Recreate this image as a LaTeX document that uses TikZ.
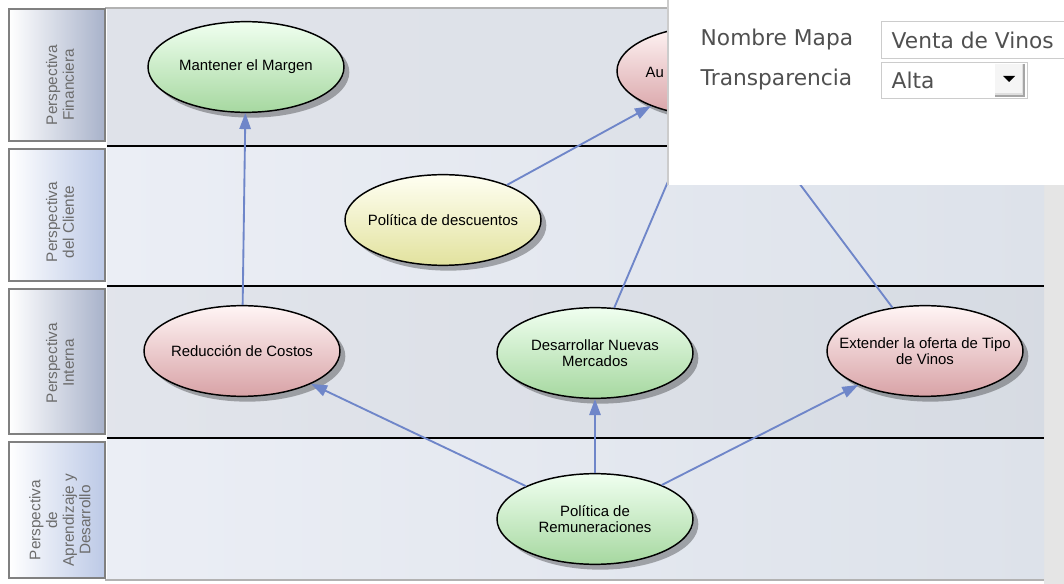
\documentclass[tikz,border=0pt]{standalone}
\usepackage{fontspec}
\setmainfont{Liberation Sans}
\newfontfamily\panelfont{DejaVu Sans}
\usepackage{tikz}
\usetikzlibrary{arrows.meta,shapes.geometric,shadows}

\definecolor{linkblue}{HTML}{6F86C9}
\definecolor{laneleft}{HTML}{EBEEF5}
\definecolor{laneright}{HTML}{DDE2EA}
\definecolor{headgrey}{HTML}{A8B2CA}
\definecolor{headblue}{HTML}{BCC9E6}
\definecolor{paneltext}{HTML}{505050}
\definecolor{greenlow}{HTML}{A6D8A0}
\definecolor{pinklow}{HTML}{D8A2A6}
\definecolor{yellowlow}{HTML}{E2E29E}

\tikzset{
  goal/.style={ellipse,draw=black,line width=1.1pt,minimum width=147pt,minimum height=68pt,
    inner xsep=-16pt,inner ysep=0pt,align=center,font=\fontsize{11.2}{12.5}\selectfont,
    drop shadow={shadow xshift=4pt,shadow yshift=-4pt,fill=black,opacity=0.3}},
  greengoal/.style={goal,top color=green!6,bottom color=greenlow},
  pinkgoal/.style={goal,top color=red!4,bottom color=pinklow},
  yellowgoal/.style={goal,top color=yellow!5,bottom color=yellowlow},
  link/.style={draw=linkblue,line width=1.4pt,-{Triangle[length=12pt,width=8.5pt]}},
  headbox/.style={draw=gray,line width=0.8pt},
  headtext/.style={rotate=90,align=center,text=gray!85!black,font=\fontsize{11.5}{12.5}\selectfont}
}

\begin{document}
\begin{tikzpicture}[x=0.75pt,y=-0.75pt]
\useasboundingbox (0,0) rectangle (1064,584);
\fill[white] (0,0) rectangle (1064,584);
\fill[gray!20] (1044,8) rectangle (1064,584);

% Lanes
\shade[left color=laneleft!95!black,right color=laneright] (107,9) rectangle (1044,146);
\shade[left color=laneleft,right color=laneright] (107,146) rectangle (1044,286);
\shade[left color=laneleft!96!black,right color=laneright!97!black] (107,286) rectangle (1044,438);
\shade[left color=laneleft,right color=laneright] (107,438) rectangle (1044,580);
\draw[gray!60,line width=1.5pt] (105,8.5) -- (1044,8.5);
\draw[gray!60,line width=1pt] (105,580) -- (1044,580);
\foreach \y in {146,286,438}
  \draw[black,line width=1.5pt] (107,\y) -- (1044,\y);

% Lane headers
\shade[headbox,left color=white,right color=headgrey] (9,9) rectangle (105,141);
\shade[headbox,left color=white,right color=headblue] (9,149) rectangle (105,281);
\shade[headbox,left color=white,right color=headgrey] (9,289) rectangle (105,434);
\shade[headbox,left color=white,right color=headblue] (9,442) rectangle (105,578);
\node[headtext] (hfin) at (60,85) {Perspectiva\\Financiera};
\node[headtext] (hcli) at (60,222) {Perspectiva\\del Cliente};
\node[headtext] (hint) at (60,363) {Perspectiva\\Interna};
\node[headtext] (hapr) at (60,520) {Perspectiva\\de\\Aprendizaje y\\Desarrollo};

% Objectives
\node[greengoal] (mant) at (246,67) {Mantener el Margen};
\node[pinkgoal] (aum) at (715,71) {};
\node[anchor=west,font=\fontsize{11.2}{12.5}\selectfont] (aumtxt) at (641,72) {Au};
\node[yellowgoal] (desc) at (443,220) {Política de descuentos};
\node[pinkgoal] (reduc) at (242,351) {Reducción de Costos};
\node[greengoal] (merc) at (595,353) {Desarrollar Nuevas\\Mercados};
\node[pinkgoal] (ext) at (925,351) {Extender la oferta de Tipo\\de Vinos};
\node[greengoal] (remu) at (595,519) {Política de\\Remuneraciones};

% Links
\draw[link] (reduc) -- (mant);
\draw[link] (desc) -- (aum);
\draw[link] (merc) -- (aum);
\draw[link] (ext) -- (aum);
\draw[link] (remu) -- (reduc);
\draw[link] (remu) -- (merc);
\draw[link] (remu) -- (ext);

% Properties panel
\fill[white] (667,0) rectangle (1064,185);
\draw[gray!40,line width=1pt] (668,0) -- (668,185);
\begin{scope}[font=\panelfont\fontsize{16.3}{19}\selectfont,text=paneltext]
\node[anchor=west] (lname) at (696,40) {Nombre Mapa};
\node[anchor=west] (ltrans) at (696,80) {Transparencia};
\draw[gray!40,fill=white] (881,21) rectangle (1070,58);
\node[anchor=west] (vname) at (887,40) {Venta de Vinos};
\draw[gray!40,fill=white] (881,62) rectangle (1027,98);
\node[anchor=west] (vtrans) at (887,80) {Alta};
\end{scope}
% dropdown button
\fill[gray!25] (995,64) rectangle (1025,96);
\fill[gray!8] (995,64) rectangle (1022,93);
\draw[gray!70,line width=1pt] (1024,64) -- (1024,96) -- (995,96);
\fill[black] (1003,76) -- (1015,76) -- (1009,82) -- cycle;
\end{tikzpicture}
\end{document}
